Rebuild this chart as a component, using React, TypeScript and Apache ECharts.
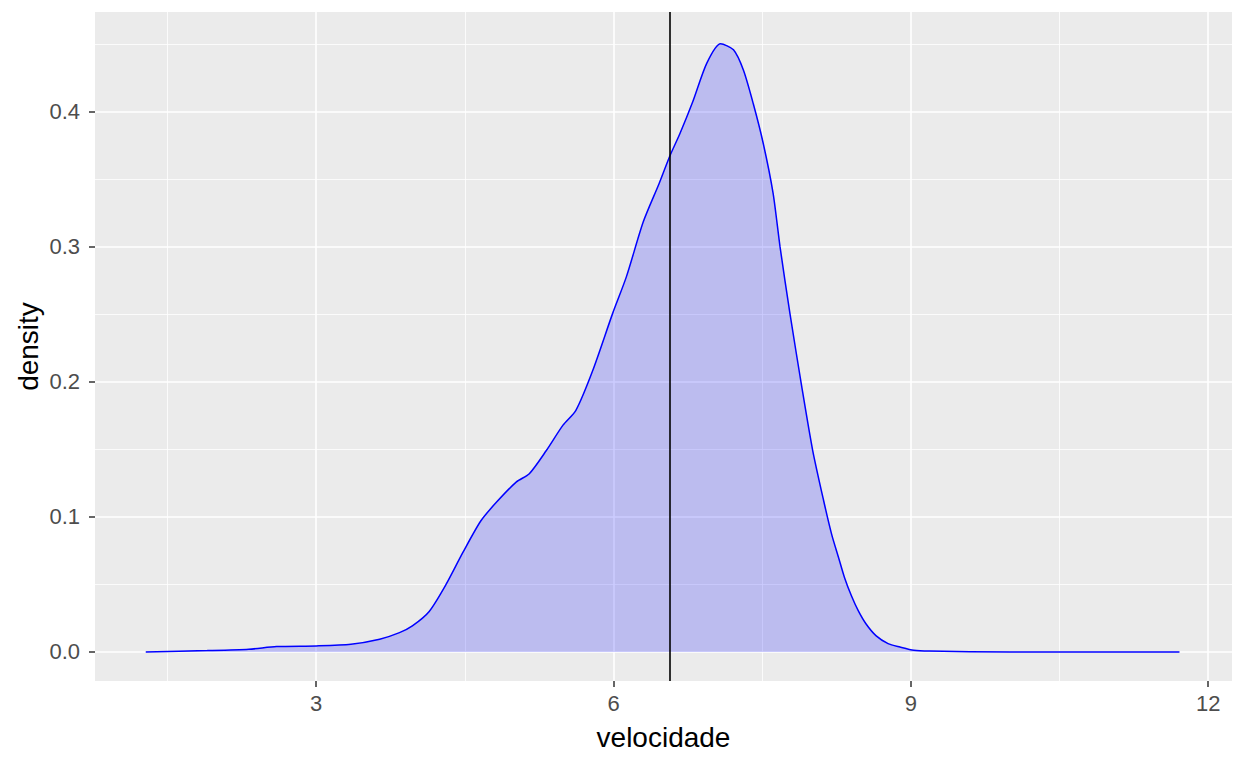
import * as echarts from 'echarts';
import React, { useEffect, useRef } from 'react';

// densidade estimada de velocidade
const velocidade = [
  1.28, 1.9, 2.32, 2.6, 3.0, 3.35, 3.64, 3.84, 3.97, 4.14, 4.31, 4.48, 4.66, 4.82, 5.02, 5.15,
  5.32, 5.49, 5.62, 5.79, 5.99, 6.13, 6.3, 6.46, 6.566, 6.67, 6.8, 6.94, 7.08, 7.21, 7.31, 7.41,
  7.51, 7.61, 7.68, 7.78, 7.9, 8.01, 8.12, 8.2, 8.27, 8.33, 8.4, 8.47, 8.55, 8.65, 8.77, 8.89,
  9.03, 9.19, 10.0, 11.71,
];
const density = [
  0, 0.001, 0.002, 0.004, 0.0045, 0.0057, 0.0094, 0.0143, 0.0193, 0.03, 0.05, 0.0737, 0.097,
  0.111, 0.126, 0.132, 0.149, 0.168, 0.179, 0.2085, 0.2506, 0.278, 0.3186, 0.347, 0.367, 0.384,
  0.4077, 0.436, 0.4505, 0.446, 0.431, 0.406, 0.3768, 0.3397, 0.3, 0.2506, 0.196, 0.149, 0.112,
  0.0873, 0.07, 0.0552, 0.0416, 0.0304, 0.0205, 0.0119, 0.0062, 0.0037, 0.0013, 0.0007, 0, 0,
];
const meanVelocidade = 6.566;

const xMajor = [3, 6, 9, 12];
const xMinor = [1.5, 4.5, 7.5, 10.5];
const yMajor = [0, 0.1, 0.2, 0.3, 0.4];
const yMinor = [0.05, 0.15, 0.25, 0.35, 0.45];

const X_MIN = 0.768;
const X_MAX = 12.24;
const Y_MIN = -0.0215;
const Y_MAX = 0.474;

const FONT = 'Liberation Sans, Arial, sans-serif';

const App: React.FC = () => {
  const chartRef = useRef<HTMLDivElement>(null);

  useEffect(() => {
    if (!chartRef.current) return;
    const chart = echarts.init(chartRef.current, undefined, { renderer: 'svg' });

    const hidden = { show: false };

    const option: echarts.EChartsOption = {
      animation: false,
      grid: {
        left: 95,
        top: 12,
        right: 16,
        bottom: 87,
        show: true,
        backgroundColor: '#EBEBEB',
        borderWidth: 0,
        containLabel: false,
        outerBoundsMode: 'none',
      } as any,
      xAxis: [
        {
          type: 'value',
          min: X_MIN,
          max: X_MAX,
          position: 'bottom',
          axisLine: { show: false, onZero: false },
          axisTick: {
            show: true,
            length: 6,
            lineStyle: { color: '#333333', width: 1.5 },
            customValues: xMajor,
          } as any,
          axisLabel: {
            customValues: xMajor,
            color: '#4D4D4D',
            fontSize: 22,
            fontFamily: FONT,
            margin: 11,
          } as any,
          splitLine: { show: true, lineStyle: { color: '#FFFFFF', width: 1.6 } },
          name: 'velocidade',
          nameLocation: 'middle',
          nameGap: 42,
          nameMoveOverlap: false,
          nameTextStyle: { color: '#000000', fontSize: 28, fontFamily: FONT },
        } as any,
        {
          type: 'value',
          min: X_MIN,
          max: X_MAX,
          position: 'top',
          axisLine: hidden,
          axisTick: { show: false, customValues: xMinor } as any,
          axisLabel: { show: false, customValues: xMinor } as any,
          splitLine: { show: true, lineStyle: { color: '#FFFFFF', width: 0.8 } },
        },
      ],
      yAxis: [
        {
          type: 'value',
          min: Y_MIN,
          max: Y_MAX,
          position: 'left',
          axisLine: { show: false, onZero: false },
          axisTick: {
            show: true,
            length: 6,
            lineStyle: { color: '#333333', width: 1.5 },
            customValues: yMajor,
          } as any,
          axisLabel: {
            customValues: yMajor,
            formatter: (v: number) => v.toFixed(1),
            color: '#4D4D4D',
            fontSize: 22,
            fontFamily: FONT,
            margin: 15,
          } as any,
          splitLine: { show: true, lineStyle: { color: '#FFFFFF', width: 1.6 } },
          name: 'density',
          nameLocation: 'middle',
          nameGap: 53,
          nameRotate: 90,
          nameMoveOverlap: false,
          nameTextStyle: { color: '#000000', fontSize: 28, fontFamily: FONT },
        } as any,
        {
          type: 'value',
          min: Y_MIN,
          max: Y_MAX,
          position: 'right',
          axisLine: hidden,
          axisTick: { show: false, customValues: yMinor } as any,
          axisLabel: { show: false, customValues: yMinor } as any,
          splitLine: { show: true, lineStyle: { color: '#FFFFFF', width: 0.8 } },
        },
      ],
      series: [
        {
          type: 'line',
          xAxisIndex: 0,
          yAxisIndex: 0,
          data: velocidade.map((v, i) => [v, density[i]]),
          smooth: 0.25,
          showSymbol: false,
          lineStyle: { color: '#0000FF', width: 1.5 },
          areaStyle: { color: '#0000FF', opacity: 0.2, origin: 0 } as any,
          markLine: {
            silent: true,
            symbol: 'none',
            label: { show: false },
            lineStyle: { color: '#000000', width: 1.6, type: 'solid' },
            data: [{ xAxis: meanVelocidade }],
          },
          z: 3,
        },
      ],
    };

    chart.setOption(option);

    return () => {
      chart.dispose();
    };
  }, []);

  return (
    <div
      ref={chartRef}
      style={{ position: 'fixed', left: 0, top: 0, width: 1248, height: 768, background: '#FFFFFF' }}
    />
  );
};

export default App;
